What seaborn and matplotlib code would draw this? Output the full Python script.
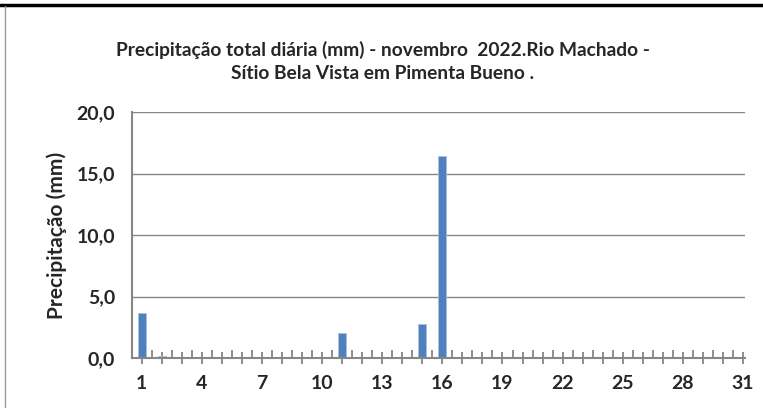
import numpy as np
import pandas as pd
import matplotlib.pyplot as plt
import seaborn as sns
from matplotlib.lines import Line2D

sns.set_style("white")
plt.rcParams["font.family"] = ["Lato", "DejaVu Sans"]

days = list(range(1, 32))
precip = [3.7, 0.2, 0, 0, 0, 0, 0, 0, 0, 0,
          2.0, 0, 0, 0, 2.8, 16.4, 0, 0, 0, 0,
          0, 0, 0, 0, 0, 0, 0, 0, 0, 0, 0]
y_ticks = [0, 5, 10, 15, 20]
y_labels = ["0,0", "5,0", "10,0", "15,0", "20,0"]
title = ("Precipitação total diária (mm) - novembro  2022.Rio Machado -\n"
         "Sítio Bela Vista em Pimenta Bueno .")

df = pd.DataFrame({"dia": days, "mm": precip})

fig = plt.figure(figsize=(7.63, 4.08), dpi=100)
ax = fig.add_axes([0.1726, 0.1225, 0.8038, 0.603])

sns.barplot(data=df, x="dia", y="mm", native_scale=True, width=0.4,
            color="#4F81BD", saturation=1, edgecolor="#A9C1E0",
            linewidth=0.6, ax=ax)

ax.set_xlim(0.5, 31.1)
ax.set_ylim(0, 20)
ax.set_yticks(y_ticks)
ax.set_yticklabels(y_labels, fontsize=14, fontweight="bold")
ax.set_xticks(days)
ax.set_xticklabels([str(d) if (d - 1) % 3 == 0 else "" for d in days],
                   fontsize=14, fontweight="bold")
ax.set_xticks(np.arange(1.5, 31, 1), minor=True)
ax.tick_params(axis="x", which="both", bottom=True)
ax.tick_params(axis="x", which="major", direction="inout", length=9,
               width=1.3, color="#868686", pad=8)
ax.tick_params(axis="x", which="minor", direction="in", length=6,
               width=1.3, color="#868686")
ax.tick_params(axis="y", length=0, pad=12)

ax.yaxis.grid(True, color="#868686", linewidth=1)
ax.set_axisbelow(True)
for s in ["top", "right"]:
    ax.spines[s].set_visible(False)
for s in ["left", "bottom"]:
    ax.spines[s].set_color("#868686")
    ax.spines[s].set_linewidth(1.5)

ax.set_xlabel("")
ax.set_ylabel("Precipitação (mm)", fontsize=15, fontweight="bold", labelpad=7)

fig.text(0.502, 0.85, title, ha="center", va="center", fontsize=13.8,
         fontweight="bold", linespacing=1.42)

# page frame lines
fig.add_artist(Line2D([0, 1], [0.987, 0.987], color="black", linewidth=2.5,
                      transform=fig.transFigure))
fig.add_artist(Line2D([0.006, 0.006], [0, 0.985], color="#999999", linewidth=1,
                      transform=fig.transFigure))

fig.savefig("out.png", dpi=100)
